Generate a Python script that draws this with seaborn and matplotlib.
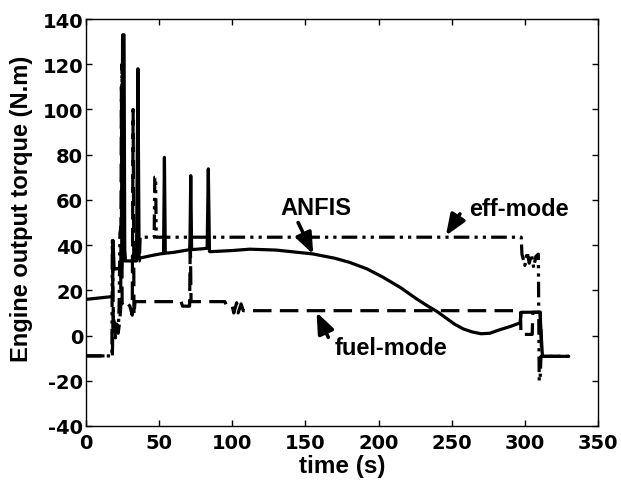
import seaborn as sns
import matplotlib.pyplot as plt
import pandas as pd

# ANFIS strategy (solid)
anfis_t = [0, 17.5, 18.2, 18.5, 19.2, 20, 24.5, 25, 26, 26.5,
           34.5, 35.5, 36.3, 45, 50.6, 53, 53.6, 54.2, 60, 71,
           71.6, 72.2, 80, 82.8, 83.6, 84.4, 85, 100, 112, 130,
           155, 170, 180, 192, 203, 215, 226, 233, 240, 246,
           252, 258, 264, 270, 276, 283, 290, 296.7, 297.5, 310.3,
           312, 330]
anfis_y = [16, 17.2, 17.2, 42, 30, 29.4, 30, 133, 133, 33,
           33, 118, 34.2, 35.4, 36.1, 36.3, 78.8, 36.4, 36.8, 38,
           70.7, 38, 38.4, 38.6, 73.7, 37.2, 37.1, 37.6, 38.2, 37.8,
           36.1, 34.2, 32.4, 29.5, 25.8, 21.2, 16.2, 13.3, 10.6, 7.8,
           5.0, 2.9, 1.6, 0.8, 1.0, 2.6, 4.0, 5.6, 10.3, 10.3,
           -9.2, -9.2]

# fuel-mode (dashed)
fuel_t = [0, 18, 18.6, 19.4, 20.2, 21, 22, 23, 23.7, 24.2,
          24.7, 26, 28, 30, 31.6, 32.2, 32.8, 33.5, 65, 66,
          70.8, 71.3, 71.8, 72.5, 95, 96, 100, 101, 103, 104,
          106, 107.5, 110, 297, 297.3, 305, 305.5, 310.5, 311.5, 330]
fuel_y = [-9, -9, 11, 3, -1, 4, 1, 6, 12, 110,
          14, 13, 14.5, 13, 9, 100, 9, 15, 15, 13,
          13, 43, 15, 15, 15, 13, 13, 10, 14.5, 10,
          14, 11, 11, 11, 0.5, 0.5, 10.3, 10.3, -9.2, -9.2]

# eff-mode (dash-dot-dot)
eff_t = [0, 17.7, 18, 18.8, 19.6, 20.4, 21.2, 22, 22.6, 23.2,
         23.8, 24.2, 24.6, 25.2, 27, 32, 33, 36.5, 37, 46.6,
         47, 47.6, 48, 297.5, 298, 300, 301.5, 303, 304.5, 306,
         307.5, 309.2, 309.8, 310.4, 311, 330]
eff_y = [-9, -9, 42, 2, 7, 0, 5, 1, 12, 45,
         48, 44, 120, 45, 33, 33, 33, 33, 43.5, 43.5,
         70, 70, 43.5, 43.5, 36, 31, 37, 32, 36, 30,
         35, 36, -20, -20, -9.2, -9.2]

x_ticks = [0, 50, 100, 150, 200, 250, 300, 350]
y_ticks = [-40, -20, 0, 20, 40, 60, 80, 100, 120, 140]

df = pd.concat([
    pd.DataFrame({'time': eff_t, 'torque': eff_y, 'mode': 'eff-mode'}),
    pd.DataFrame({'time': fuel_t, 'torque': fuel_y, 'mode': 'fuel-mode'}),
    pd.DataFrame({'time': anfis_t, 'torque': anfis_y, 'mode': 'ANFIS'}),
], ignore_index=True)

sns.set_theme(style="ticks", rc={
    'xtick.direction': 'in', 'ytick.direction': 'in',
    'xtick.top': True, 'ytick.right': True,
    'axes.edgecolor': 'black', 'xtick.color': 'black', 'ytick.color': 'black',
    'text.color': 'black', 'axes.labelcolor': 'black',
    'axes.linewidth': 1.0, 'axes.unicode_minus': False,
})
plt.rcParams['font.family'] = ['Liberation Sans', 'DejaVu Sans']
plt.rcParams['font.weight'] = 'bold'

fig = plt.figure(figsize=(6.21, 4.81), dpi=100)
ax = fig.add_axes([0.1385, 0.1123, 0.8245, 0.8461])

modes = ['eff-mode', 'fuel-mode', 'ANFIS']
g = sns.lineplot(data=df, x='time', y='torque', hue='mode', style='mode',
                 hue_order=modes, style_order=modes,
                 palette={m: 'black' for m in modes},
                 dashes={'eff-mode': (4.9, 1.6, 1, 1.6, 1, 1.6),
                         'fuel-mode': (5.8, 2.6), 'ANFIS': ''},
                 estimator=None, sort=False, lw=2.3, legend=False, ax=ax)

g.set_xlim(0, 350)
g.set_ylim(-40, 140)
g.set_xticks(x_ticks)
g.set_yticks(y_ticks)
g.tick_params(axis='both', which='major', length=4, width=1)
g.tick_params(axis='y', pad=2)
g.tick_params(axis='x', pad=5)
# the tick digits in the reference are wide, DejaVu bold fits their box best
for lab in g.get_xticklabels() + g.get_yticklabels():
    lab.set_fontfamily('DejaVu Sans')
    lab.set_fontsize(14)
    lab.set_fontweight('bold')

g.set_xlabel('time (s)', fontsize=17.5, fontweight='bold')
g.set_ylabel('Engine output torque (N.m)', fontsize=17, fontweight='bold')
g.xaxis.set_label_coords(0.5, -0.068)
g.yaxis.set_label_coords(-0.103, 0.536)

# labels with arrows
arrow = dict(arrowstyle='-|>,head_length=0.7,head_width=0.28', color='black',
             lw=2.6, mutation_scale=18, shrinkA=0, shrinkB=0)
g.annotate('', xy=(155.3, 36), xytext=(145, 50), arrowprops=arrow)
g.annotate('', xy=(246, 44.2), xytext=(255.6, 53.8), arrowprops=arrow)
g.annotate('', xy=(157.6, 10.3), xytext=(165.6, -0.8), arrowprops=arrow)
g.text(157.1, 53.8, 'ANFIS', ha='center', va='baseline', fontsize=17, fontweight='bold')
g.text(296.1, 53.3, 'eff-mode', ha='center', va='baseline', fontsize=17, fontweight='bold')
g.text(208.4, -8.2, 'fuel-mode', ha='center', va='baseline', fontsize=17, fontweight='bold')

fig.savefig('out.png', dpi=100)
